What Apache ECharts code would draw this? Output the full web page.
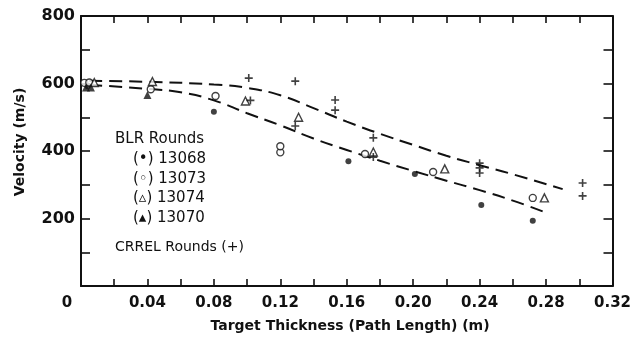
<!DOCTYPE html>
<html>
<head>
<meta charset="utf-8">
<script src="https://cdn.jsdelivr.net/npm/echarts@6/dist/echarts.min.js"></script>
<style>
  html, body { margin: 0; padding: 0; background: #ffffff; }
  #chart { width: 634px; height: 341px; }
</style>
</head>
<body>
<div id="chart"></div>
<script>
// Projectile residual velocity vs. target thickness

// BLR rounds, [thickness (m), velocity (m/s)]
const round13068 = [[0.004, 592], [0.080, 516], [0.161, 370], [0.201, 332], [0.241, 240], [0.272, 193]];
const round13073 = [[0.002, 602], [0.005, 603], [0.042, 583], [0.081, 563], [0.120, 396], [0.120, 414],
                    [0.171, 391], [0.212, 338], [0.272, 261]];
const round13074 = [[0.008, 603], [0.043, 606], [0.099, 548], [0.131, 500], [0.176, 397], [0.219, 347], [0.279, 261]];
const round13070 = [[0.003, 588], [0.006, 588], [0.040, 566]];

// CRREL rounds
const crrelRounds = [[0.101, 616], [0.102, 550], [0.129, 607], [0.129, 474], [0.153, 551], [0.153, 521],
                     [0.176, 439], [0.176, 382], [0.240, 364], [0.240, 350], [0.240, 335], [0.302, 305], [0.302, 267]];

// Fitted trend curves (dashed)
const upperTrend = [[0.005, 608], [0.04, 605], [0.08, 597], [0.10, 587], [0.12, 565], [0.14, 527], [0.16, 487],
                    [0.18, 451], [0.20, 418], [0.22, 386], [0.24, 358], [0.26, 331], [0.29, 287]];
const lowerTrend = [[0.005, 596], [0.04, 584], [0.06, 574], [0.08, 550], [0.10, 512], [0.12, 476], [0.14, 437],
                    [0.16, 403], [0.18, 371], [0.20, 341], [0.22, 312], [0.24, 284], [0.26, 253], [0.279, 219]];

// Axis text
const xTitle = 'Target Thickness (Path Length) (m)';
const yTitle = 'Velocity (m/s)';
const legendHeading = 'BLR Rounds';
const legendLines = ['(\u2022) 13068', '(\u25E6) 13073', '(\u25B5) 13074', '(\u25B4) 13070'];
const crrelLabel = 'CRREL Rounds (+)';

const INK = '#111111';
const FONT = 'DejaVu Sans';

const plusPath = 'path://M4,0 L6,0 L6,4 L10,4 L10,6 L6,6 L6,10 L4,10 L4,6 L0,6 L0,4 L4,4 Z';

const chart = echarts.init(document.getElementById('chart'), null, { renderer: 'canvas' });

const frameLine = { show: true, onZero: false, lineStyle: { color: INK, width: 2 } };
const innerTick = (len) => ({ show: true, inside: true, length: len, lineStyle: { color: INK, width: 1.6 } });

function xLabel(v) {
  const k = Math.round(v * 100);
  if (k === 0) return '{z|0}';
  if (k % 4 !== 0) return '';
  return v.toFixed(2);
}
function yLabel(v) {
  if (v === 0) return '';
  return v % 200 === 0 ? String(v) : '';
}

const scatterBase = {
  type: 'scatter',
  xAxisIndex: 0, yAxisIndex: 0,
  z: 5,
  silent: true
};

chart.setOption({
  backgroundColor: '#ffffff',
  animation: false,
  grid: { left: 81, right: 15, top: 16, bottom: 55, containLabel: false },
  xAxis: [
    {
      type: 'value', min: 0, max: 0.32, interval: 0.02, position: 'bottom',
      axisLine: frameLine, axisTick: innerTick(7), splitLine: { show: false },
      axisLabel: {
        color: INK, fontFamily: FONT, fontSize: 15, fontWeight: 'bold', margin: 10,
        formatter: xLabel, showMinLabel: true, showMaxLabel: true,
        rich: { z: { fontFamily: FONT, fontSize: 15, fontWeight: 'bold', color: INK, padding: [0, 28, 0, 0] } }
      }
    },
    {
      type: 'value', min: 0, max: 0.32, interval: 0.02, position: 'top',
      axisLine: frameLine, axisTick: innerTick(7), axisLabel: { show: false }, splitLine: { show: false }
    }
  ],
  yAxis: [
    {
      type: 'value', min: 0, max: 800, interval: 100, position: 'left',
      axisLine: frameLine, axisTick: innerTick(9), splitLine: { show: false },
      axisLabel: { color: INK, fontFamily: FONT, fontSize: 16, fontWeight: 'bold', margin: 6, formatter: yLabel }
    },
    {
      type: 'value', min: 0, max: 800, interval: 100, position: 'right',
      axisLine: frameLine, axisTick: innerTick(9), axisLabel: { show: false }, splitLine: { show: false }
    }
  ],
  series: [
    {
      type: 'line', data: upperTrend, smooth: 0.5, symbol: 'none', silent: true, z: 3,
      lineStyle: { color: INK, width: 2, type: [13, 7] }
    },
    {
      type: 'line', data: lowerTrend, smooth: 0.5, symbol: 'none', silent: true, z: 3,
      lineStyle: { color: INK, width: 2, type: [13, 7] }
    },
    Object.assign({}, scatterBase, {
      name: '13068', data: round13068, symbol: 'circle', symbolSize: 6,
      itemStyle: { color: INK }
    }),
    Object.assign({}, scatterBase, {
      name: '13073', data: round13073, symbol: 'circle', symbolSize: 7,
      itemStyle: { color: '#ffffff', borderColor: INK, borderWidth: 1.4 }
    }),
    Object.assign({}, scatterBase, {
      name: '13074', data: round13074, symbol: 'triangle', symbolSize: 8,
      itemStyle: { color: '#ffffff', borderColor: INK, borderWidth: 1.4 }
    }),
    Object.assign({}, scatterBase, {
      name: '13070', data: round13070, symbol: 'triangle', symbolSize: 8,
      itemStyle: { color: INK }
    }),
    Object.assign({}, scatterBase, {
      name: 'CRREL', data: crrelRounds, symbol: plusPath, symbolSize: 8,
      itemStyle: { color: INK }
    })
  ],
  graphic: [
    {
      type: 'text', rotation: Math.PI / 2, x: 20, y: 142,
      style: { text: yTitle, fill: INK, font: 'bold 14px "DejaVu Sans"', align: 'center', verticalAlign: 'middle' }
    },
    {
      type: 'text', x: 350, y: 326,
      style: { text: xTitle, fill: INK, font: 'bold 14px "DejaVu Sans"', align: 'center', verticalAlign: 'middle' }
    },
    {
      type: 'text', x: 115, y: 139,
      style: { text: legendHeading, fill: INK, font: '15px "DejaVu Sans"', align: 'left', verticalAlign: 'middle' }
    },
    ...legendLines.map((t, i) => ({
      type: 'text', x: 133, y: 159 + i * 19.8,
      style: { text: t, fill: INK, font: '15px "DejaVu Sans"', align: 'left', verticalAlign: 'middle' }
    })),
    {
      type: 'text', x: 115, y: 247,
      style: { text: crrelLabel, fill: INK, font: '14px "DejaVu Sans"', align: 'left', verticalAlign: 'middle' }
    }
  ]
});
</script>
</body>
</html>
